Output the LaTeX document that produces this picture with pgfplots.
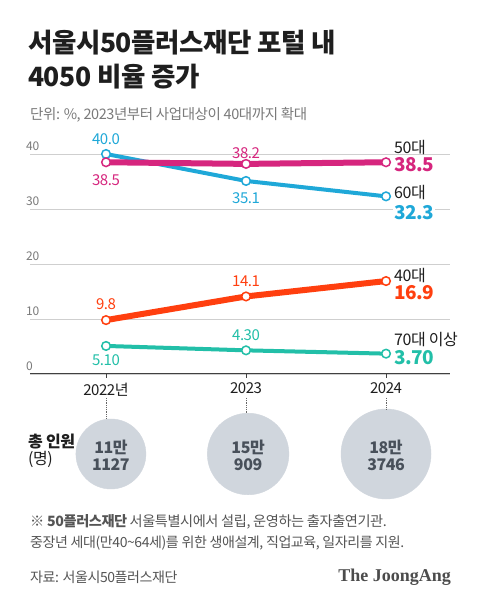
\documentclass[border=0pt]{standalone}
\usepackage{pgfplots}
\pgfplotsset{compat=1.18}
\usepackage{pgfplotstable}
\usepackage{fontspec}
\setmainfont{Noto Sans CJK KR}[LetterSpace=-3]
\newfontfamily\titlefont{Noto Sans CJK KR}[LetterSpace=-1.5]
\newfontfamily\logofont{Liberation Serif}
\definecolor{c50}{HTML}{D6267E}
\definecolor{c60}{HTML}{1FA8D8}
\definecolor{c40}{HTML}{FF3F0F}
\definecolor{c70}{HTML}{22BFA8}
\definecolor{circ}{HTML}{D0D6DD}
\definecolor{txt}{HTML}{1E1E1E}
\definecolor{sub}{HTML}{7A7A7A}
\definecolor{foot}{HTML}{555555}
\definecolor{gridc}{HTML}{CFCFCF}
\definecolor{circtxt}{HTML}{48505A}
\newcommand{\fs}[1]{\fontsize{#1pt}{#1pt}\selectfont}

% share of participants by age group (%)
\pgfplotstableread{
x y
0 40.0
1 35.1
2 32.3
}\sixty
\pgfplotstableread{
x y
0 38.5
1 38.2
2 38.5
}\fifty
\pgfplotstableread{
x y
0 9.8
1 14.1
2 16.9
}\forty
\pgfplotstableread{
x y
0 5.10
1 4.30
2 3.70
}\seventy
% total participants (10 thousand persons); y = row position below the axis
\pgfplotstableread{
x y n
0.035 -14.545 11.1127
1.015 -14.545 15.0909
2.000 -14.545 18.3746
}\people

\begin{document}
\begin{tikzpicture}
\fill[white] (0pt,0pt) rectangle (480pt,604pt);
\useasboundingbox (0pt,0pt) rectangle (480pt,604pt);

% title
\node[anchor=west, inner sep=0pt, text=txt] at (28pt,561pt) {\titlefont\bfseries\fs{26.5}서울시50플러스재단 포털 내};
\node[anchor=west, inner sep=0pt, text=txt] at (28pt,527pt) {\titlefont\bfseries\fs{26.5}4050 비율 증가};
\node[anchor=west, inner sep=0pt, text=sub] at (30pt,489pt) {\fs{14.5}단위: \%, 2023년부터 사업대상이 40대까지 확대};

\begin{axis}[
  at={(30pt,230pt)}, anchor=south west,
  scale only axis, width=420pt, height=242pt,
  xmin=-0.543, xmax=2.457, ymin=0, ymax=44,
  clip=false,
  axis x line*=bottom, axis y line*=left,
  y axis line style={draw=none},
  x axis line style={draw=black!75, line width=1pt, -},
  xtick={0,1,2}, xticklabels={2022년,2023,2024},
  ytick={0,10,20,30,40},
  ymajorgrids, grid style={gridc, line width=0.8pt},
  ytick style={draw=none},
  xtick style={draw=black!75, line width=0.8pt},
  tick align=outside, major tick length=4pt,
  xticklabel style={font=\fs{15}, text=txt, yshift=-1.5pt},
  yticklabel style={anchor=south west, font=\fs{12}, text=sub, inner sep=0pt, yshift=3pt},
  /pgf/number format/assume math mode=true,
]
% circles for total participants (radius ~ sqrt of total)
\addplot[scatter, only marks, mark=*, draw=circ, fill=circ,
  mark options={draw=circ, fill=circ},
  scatter/use mapped color={draw=circ, fill=circ},
  visualization depends on={10.5*sqrt(\thisrow{n}) \as \rad},
  scatter/@pre marker code/.append style={/tikz/mark size=\rad}]
  table[x=x, y=y] {\people};

\addplot[c60, line width=4pt, mark=*, mark size=4.3pt,
  mark options={fill=white, draw=c60, line width=1.5pt}] table[x=x,y=y] {\sixty};
\addplot[c50, line width=6pt, mark=*, mark size=4.3pt,
  mark options={fill=white, draw=c50, line width=1.5pt}] table[x=x,y=y] {\fifty};
\addplot[c40, line width=6pt, mark=*, mark size=4.3pt,
  mark options={fill=white, draw=c40, line width=1.5pt}] table[x=x,y=y] {\forty};
\addplot[c70, line width=4pt, mark=*, mark size=4.3pt,
  mark options={fill=white, draw=c70, line width=1.5pt}] table[x=x,y=y] {\seventy};

% value labels
\begin{scope}[every node/.style={font=\fs{15}, inner sep=0pt}]
\node[text=c60, yshift=15pt]  at (axis cs:0,40.0) {40.0};
\node[text=c60, yshift=-17pt] at (axis cs:1,35.1) {35.1};
\node[text=c50, yshift=-18pt] at (axis cs:0,38.5) {38.5};
\node[text=c50, yshift=11pt]  at (axis cs:1,38.2) {38.2};
\node[text=c40, yshift=16pt]  at (axis cs:0,9.8) {9.8};
\node[text=c40, yshift=15pt]  at (axis cs:1,14.1) {14.1};
\node[text=c70, yshift=-14pt] at (axis cs:0,5.10) {5.10};
\node[text=c70, yshift=15pt]  at (axis cs:1,4.30) {4.30};
\end{scope}
\begin{scope}[every node/.style={inner sep=1pt, anchor=west, xshift=7pt}]
\node[text=txt, font=\fs{16}, yshift=15pt] at (axis cs:2,38.5) {50대};
\node[text=c50, font=\fs{19}\bfseries, fill=white, yshift=-2pt] at (axis cs:2,38.5) {38.5};
\node[text=txt, font=\fs{16}, yshift=4pt] at (axis cs:2,32.3) {60대};
\node[text=c60, font=\fs{19}\bfseries, fill=white, yshift=-16pt] at (axis cs:2,32.3) {32.3};
\node[text=txt, font=\fs{16}, yshift=6pt] at (axis cs:2,16.9) {40대};
\node[text=c40, font=\fs{19}\bfseries, fill=white, yshift=-12pt] at (axis cs:2,16.9) {16.9};
\node[text=txt, font=\fs{16}, yshift=14pt] at (axis cs:2,3.70) {70대 이상};
\node[text=c70, font=\fs{19}\bfseries, fill=white, yshift=-4pt] at (axis cs:2,3.70) {3.70};
\end{scope}
\coordinate (p1) at (axis cs:0.035,-14.545);
\coordinate (p2) at (axis cs:1.015,-14.545);
\coordinate (p3) at (axis cs:2.000,-14.545);
\end{axis}

% labels inside circles
\begin{scope}[every node/.style={align=center, font=\fs{16}\bfseries, text=circtxt, inner sep=0pt}]
\node at ([yshift=-1pt]p1) {11만\\[1pt]1127};
\node at ([yshift=-1pt]p2) {15만\\[1pt]909};
\node at ([yshift=-1pt]p3) {18만\\[1pt]3746};
\end{scope}

% dotted connectors
\begin{scope}[densely dotted, draw=black!60, line width=0.8pt]
\draw (106pt,206pt) -- (106pt,185pt);
\draw (246pt,206pt) -- (246pt,191pt);
\draw (386pt,206pt) -- (386pt,195pt);
\end{scope}

\node[anchor=west, inner sep=0pt, text=txt] at (28pt,162pt) {\fs{16}\bfseries 총 인원};
\node[anchor=west, inner sep=0pt, text=txt] at (28pt,145pt) {\fs{16}(명)};

% footnotes
\node[anchor=west, inner sep=0pt, text=foot] at (30pt,82pt) {\fs{14.2}\textbf{※ 50플러스재단} 서울특별시에서 설립, 운영하는 출자출연기관.};
\node[anchor=west, inner sep=0pt, text=foot] at (30pt,61pt) {\fs{14}중장년 세대(만40\textasciitilde64세)를 위한 생애설계, 직업교육, 일자리를 지원.};
\node[anchor=west, inner sep=0pt, text=foot] at (30pt,27pt) {\fs{14}자료: 서울시50플러스재단};
\node[anchor=east, inner sep=0pt, text=foot!90!black] at (451pt,27pt) {\logofont\bfseries\fs{18}The JoongAng};
\end{tikzpicture}
\end{document}
